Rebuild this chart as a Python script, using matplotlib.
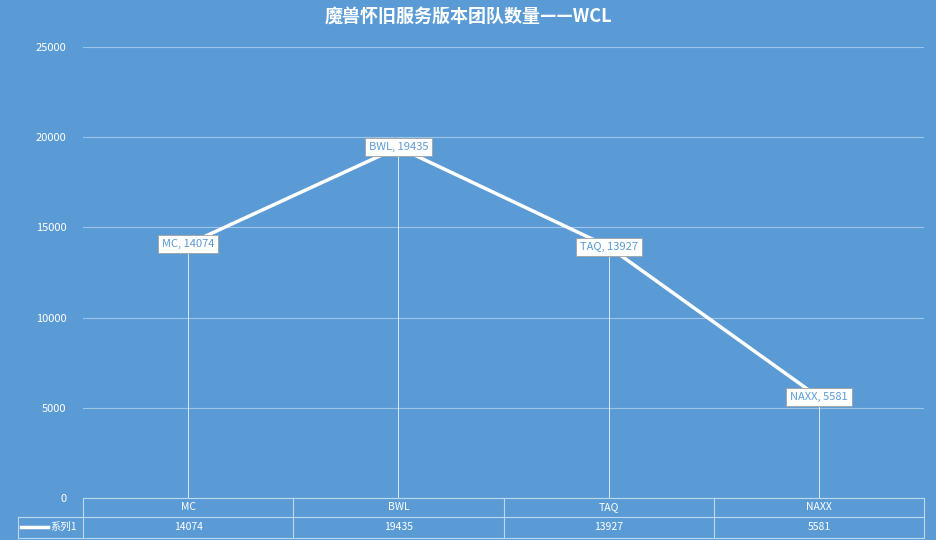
import matplotlib
matplotlib.use("Agg")
import matplotlib.pyplot as plt

plt.rcParams['font.family'] = ['Noto Sans CJK SC', 'DejaVu Sans']

categories = ["MC", "BWL", "TAQ", "NAXX"]
values = [14074, 19435, 13927, 5581]
series_name = "系列1"
title = "魔兽怀旧服务版本团队数量——WCL"

BG = "#5B9BD5"
W, H = 936, 540
fig = plt.figure(figsize=(W/100, H/100), dpi=100, facecolor=BG)
L, R, T, B = 83, 924, 47, 498
ax = fig.add_axes([L/W, (H-B)/H, (R-L)/W, (B-T)/H], facecolor=BG)
ax.set_xlim(-0.5, len(categories)-0.5)
ax.set_ylim(0, 25000)
ax.set_yticks(range(0, 25001, 5000))
ax.set_xticks([])
ax.tick_params(axis='y', length=0, labelcolor='white', labelsize=8, pad=12)
for s in ax.spines.values():
    s.set_visible(False)
ax.grid(axis='y', color='#9DC3E6', lw=0.8)
ax.set_axisbelow(True)

x = list(range(len(categories)))
ax.vlines(x, 0, values, color='white', lw=0.6, alpha=0.9)
ax.plot(x, values, color='white', lw=2.5)
for xi, c, v in zip(x, categories, values):
    ax.text(xi, v, f"{c}, {v}", ha='center', va='center', fontsize=8, color='#5B9BD5',
            bbox=dict(boxstyle='square,pad=0.35', fc='white', ec='#A0A0A0', lw=0.6))

fig.text(0.5, 1-17/H, title, ha='center', va='center', color='white', fontsize=13, fontweight='bold')

# data table
lc = '#BDD7EE'
def fx(px): return px/W
def fy(py): return 1-py/H
y0, y1, y2 = 498, 517, 538
fig.add_artist(plt.Line2D([fx(L), fx(R)], [fy(y0)]*2, color=lc, lw=0.8))
fig.add_artist(plt.Line2D([fx(18), fx(R)], [fy(y1)]*2, color=lc, lw=0.8))
fig.add_artist(plt.Line2D([fx(18), fx(R)], [fy(y2)]*2, color=lc, lw=0.8))
fig.add_artist(plt.Line2D([fx(18)]*2, [fy(y1), fy(y2)], color=lc, lw=0.8))
cw = (R-L)/len(categories)
for i in range(len(categories)+1):
    xp = L + i*cw
    fig.add_artist(plt.Line2D([fx(xp)]*2, [fy(y0), fy(y2)], color=lc, lw=0.8))
for i, (c, v) in enumerate(zip(categories, values)):
    xc = L + (i+0.5)*cw
    fig.text(fx(xc), fy((y0+y1)/2), c, ha='center', va='center', color='white', fontsize=7.5)
    fig.text(fx(xc), fy((y1+y2)/2), str(v), ha='center', va='center', color='white', fontsize=7.5)
fig.add_artist(plt.Line2D([fx(21), fx(48)], [fy(527)]*2, color='white', lw=2.5))
fig.text(fx(50), fy(527), series_name, ha='left', va='center', color='white', fontsize=7.5)

fig.savefig("out.png", dpi=100, facecolor=BG)
